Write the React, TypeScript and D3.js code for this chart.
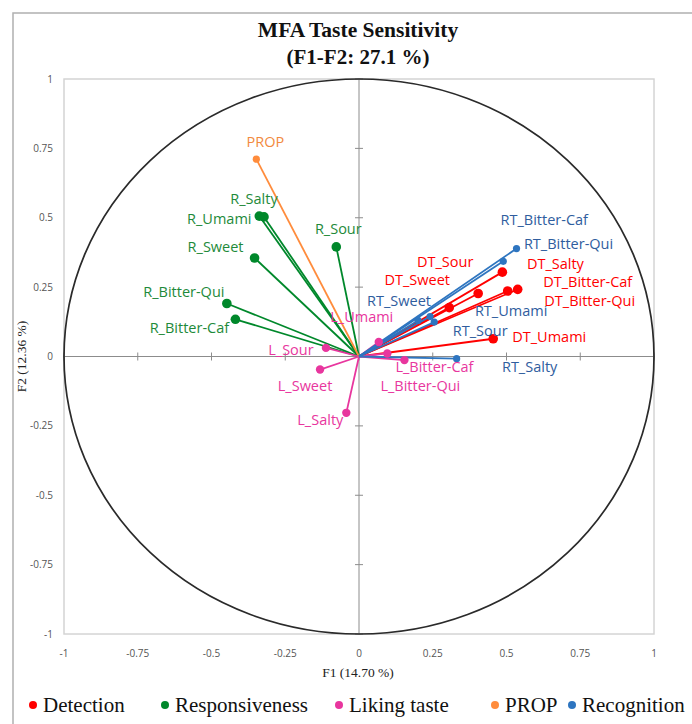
import React from "react";
import * as d3 from "d3";

const ticks = [-1, -0.75, -0.5, -0.25, 0, 0.25, 0.5, 0.75, 1];
const tickLabels = ["-1", "-0.75", "-0.5", "-0.25", "0", "0.25", "0.5", "0.75", "1"];

const groups = ["Detection", "Responsiveness", "Liking taste", "PROP", "Recognition"];

const detectionNames = ["DT_Sour", "DT_Sweet", "DT_Salty", "DT_Bitter-Caf", "DT_Bitter-Qui", "DT_Umami"];
const detectionX = [0.404, 0.306, 0.486, 0.538, 0.504, 0.455];
const detectionY = [0.227, 0.176, 0.304, 0.242, 0.236, 0.064];

const responsivenessNames = ["R_Salty", "R_Umami", "R_Sour", "R_Sweet", "R_Bitter-Qui", "R_Bitter-Caf"];
const responsivenessX = [-0.322, -0.338, -0.077, -0.354, -0.448, -0.419];
const responsivenessY = [0.503, 0.506, 0.395, 0.355, 0.191, 0.134];

const likingNames = ["L_Sour", "L_Umami", "L_Sweet", "L_Salty", "L_Bitter-Caf", "L_Bitter-Qui"];
const likingX = [-0.112, 0.067, -0.132, -0.043, 0.154, 0.096];
const likingY = [0.031, 0.052, -0.047, -0.203, -0.013, 0.011];

const propNames = ["PROP"];
const propX = [-0.348];
const propY = [0.711];

const recognitionNames = ["RT_Bitter-Caf", "RT_Bitter-Qui", "RT_Sweet", "RT_Umami", "RT_Sour", "RT_Salty"];
const recognitionX = [0.489, 0.534, 0.2, 0.241, 0.255, 0.331];
const recognitionY = [0.343, 0.389, 0.13, 0.144, 0.124, -0.008];

// label offsets (pixels, relative to the point)
const labelOffsets: Record<string, [number, number]> = {
  PROP: [9, -17],
  R_Salty: [-10, -18],
  R_Umami: [-40, 3],
  R_Sour: [2, -18],
  R_Sweet: [-39, -11],
  "R_Bitter-Qui": [-43, -12],
  "R_Bitter-Caf": [-46, 9],
  L_Sour: [-35, 2],
  L_Umami: [-17, -25],
  L_Sweet: [-15, 16],
  L_Salty: [-26, 7],
  "L_Bitter-Caf": [30, 7],
  "L_Bitter-Qui": [33, 32],
  "RT_Bitter-Caf": [41, -41],
  "RT_Bitter-Qui": [52, -5],
  DT_Salty: [53, -8],
  "DT_Bitter-Caf": [70, -7],
  "DT_Bitter-Qui": [82, 10],
  DT_Sour: [-33, -32],
  DT_Sweet: [-32, -28],
  RT_Sweet: [-19, -20],
  RT_Umami: [81, -6],
  RT_Sour: [46, 9],
  DT_Umami: [56, -2],
  RT_Salty: [73, 8],
};

const series = [
  { names: detectionNames, xs: detectionX, ys: detectionY, color: "#ff0000", text: "#ff0000", r: 4.8 },
  { names: responsivenessNames, xs: responsivenessX, ys: responsivenessY, color: "#00882b", text: "#1e8a3a", r: 4.8 },
  { names: likingNames, xs: likingX, ys: likingY, color: "#e8369e", text: "#e8369e", r: 4.2 },
  { names: propNames, xs: propX, ys: propY, color: "#ff8c3c", text: "#f28a3e", r: 3.6 },
  { names: recognitionNames, xs: recognitionX, ys: recognitionY, color: "#2e75c0", text: "#2f5d9e", r: 3.6 },
];

const legendColors = ["#ff0000", "#00882b", "#e8369e", "#ff8c3c", "#2e75c0"];
const legendX = [33, 165, 339, 495, 572];

export default function App() {
  const x = d3.scaleLinear().domain([-1, 1]).range([64, 654]);
  const y = d3.scaleLinear().domain([-1, 1]).range([634, 79]);
  const labelFont = "'Open Sans', 'Liberation Sans', sans-serif";
  const serif = "'Liberation Serif', 'DejaVu Serif', serif";

  return (
    <svg width={692} height={724} style={{ position: "absolute", left: 0, top: 0 }} xmlns="http://www.w3.org/2000/svg">
      <rect x={0} y={0} width={692} height={724} fill="#fff" />
      <rect x={13} y={13} width={720} height={730} fill="none" stroke="#b0b0b0" strokeWidth={1.5} />
      <text x={358} y={37} textAnchor="middle" fontFamily={serif} fontWeight="bold" fontSize={21.5} fill="#111">MFA Taste Sensitivity</text>
      <text x={358} y={64} textAnchor="middle" fontFamily={serif} fontWeight="bold" fontSize={21} fill="#111">(F1-F2: 27.1 %)</text>

      <rect x={x(-1)} y={y(1)} width={x(1) - x(-1)} height={y(-1) - y(1)} fill="none" stroke="#d4d4d4" strokeWidth={1.5} />

      {/* crosshair */}
      <line x1={x(0)} x2={x(0)} y1={y(1)} y2={y(-1)} stroke="#8c8c8c" strokeWidth={1} />
      <line x1={x(-1)} x2={x(1)} y1={y(0)} y2={y(0)} stroke="#8c8c8c" strokeWidth={1} />
      {ticks.map((t, i) => (
        <g key={"t" + i}>
          <line x1={x(0) - 4} x2={x(0) + 4} y1={y(t)} y2={y(t)} stroke="#8c8c8c" strokeWidth={1} />
          <line x1={x(t)} x2={x(t)} y1={y(0) - 4} y2={y(0) + 4} stroke="#8c8c8c" strokeWidth={1} />
        </g>
      ))}

      {/* unit circle */}
      <ellipse cx={x(0)} cy={y(0)} rx={x(1) - x(0)} ry={y(0) - y(1)} fill="none" stroke="#2a2a2a" strokeWidth={1.7} />

      {/* tick labels */}
      {ticks.map((t, i) => (
        <text key={"yl" + i} x={53} y={y(t)} dy="0.35em" textAnchor="end" fontFamily={labelFont} fontSize={10} fill="#555">{tickLabels[i]}</text>
      ))}
      {ticks.map((t, i) => (
        <text key={"xl" + i} x={x(t)} y={653} dy="0.35em" textAnchor="middle" fontFamily={labelFont} fontSize={10} fill="#555">{tickLabels[i]}</text>
      ))}

      <text x={358} y={677} textAnchor="middle" fontFamily={serif} fontSize={13.5} fill="#222">F1 (14.70 %)</text>
      <text transform={`translate(26,${y(0)}) rotate(-90)`} textAnchor="middle" fontFamily={serif} fontSize={13.5} fill="#222">F2 (12.36 %)</text>

      {/* vectors */}
      {series.map((s, si) => (
        <g key={"s" + si}>
          {s.xs.map((vx, i) => (
            <line key={i} x1={x(0)} y1={y(0)} x2={x(vx)} y2={y(s.ys[i])} stroke={s.color} strokeWidth={1.8} />
          ))}
        </g>
      ))}
      {series.map((s, si) => (
        <g key={"p" + si}>
          {s.xs.map((vx, i) => (
            <circle key={i} cx={x(vx)} cy={y(s.ys[i])} r={s.r} fill={s.color} />
          ))}
        </g>
      ))}
      {series.map((s, si) => (
        <g key={"l" + si}>
          {s.names.map((n, i) => {
            const off = labelOffsets[n] || [0, 0];
            return (
              <text key={n} x={x(s.xs[i]) + off[0]} y={y(s.ys[i]) + off[1]} dy="0.35em" textAnchor="middle" fontFamily={labelFont} fontSize={14.5} fill={s.text}>{n}</text>
            );
          })}
        </g>
      ))}

      {/* legend */}
      {groups.map((g, i) => (
        <g key={"lg" + i}>
          <circle cx={legendX[i]} cy={705} r={4} fill={legendColors[i]} />
          <text x={legendX[i] + 10} y={705} dy="0.35em" fontFamily={serif} fontSize={21} fill="#111">{g}</text>
        </g>
      ))}
    </svg>
  );
}
